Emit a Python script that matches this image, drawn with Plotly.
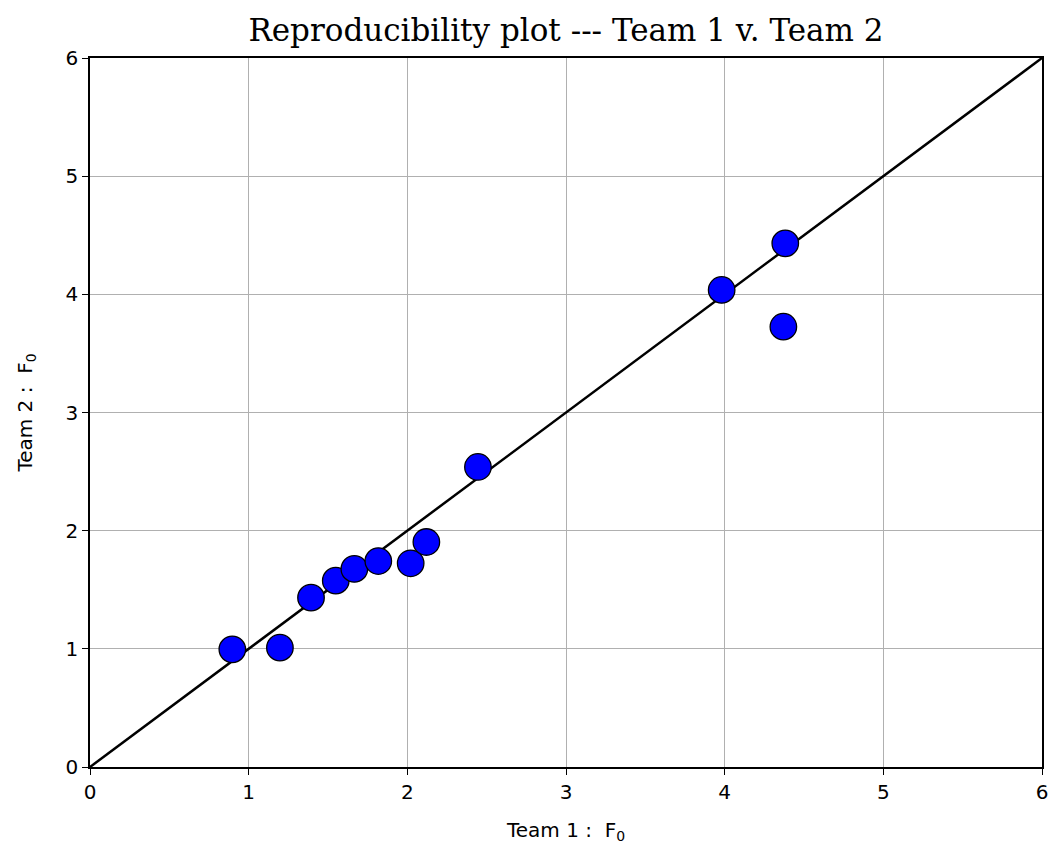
import plotly.graph_objects as go

team1 = [0.897, 1.197, 1.393, 1.549, 1.666, 1.817, 2.021, 2.120, 2.445, 3.981, 4.382, 4.370]
team2 = [0.996, 1.010, 1.433, 1.577, 1.676, 1.743, 1.724, 1.904, 2.539, 4.037, 4.432, 3.726]
line_x = [0, 6]
line_y = [0, 6]
ticks = [0, 1, 2, 3, 4, 5, 6]

fig = go.Figure()
fig.add_trace(go.Scatter(x=line_x, y=line_y, mode="lines",
                         line=dict(color="black", width=2.5), showlegend=False))
fig.add_trace(go.Scatter(x=team1, y=team2, mode="markers",
                         marker=dict(size=26.5, color="#0000ff", line=dict(color="black", width=1.3)),
                         showlegend=False))

axis_common = dict(range=[0, 6], tickvals=ticks, showgrid=True, gridcolor="#b0b0b0", gridwidth=1,
                   showline=True, linecolor="black", linewidth=1.5, mirror=True,
                   ticks="outside", ticklen=6, tickwidth=1.2, tickcolor="black",
                   zeroline=False, automargin=False,
                   tickfont=dict(family="DejaVu Sans", size=20, color="black"))

fig.update_layout(
    width=1050, height=848,
    margin=dict(l=90, r=8, t=58, b=81),
    paper_bgcolor="white", plot_bgcolor="white",
    title=dict(text="Reproducibility plot --- Team 1 v. Team 2", x=0.539, xanchor="center",
               y=0.965, yanchor="middle",
               font=dict(family="DejaVu Serif", size=31, color="black")),
    xaxis=dict(**axis_common, title=dict(text="Team 1 :  F<sub>0</sub>", standoff=20,
                                         font=dict(family="DejaVu Sans", size=20, color="black"))),
    yaxis=dict(**axis_common, title=dict(text="Team 2 :  F<sub>0</sub>", standoff=28,
                                         font=dict(family="DejaVu Sans", size=20, color="black"))),
)
fig.write_html("out.html")
